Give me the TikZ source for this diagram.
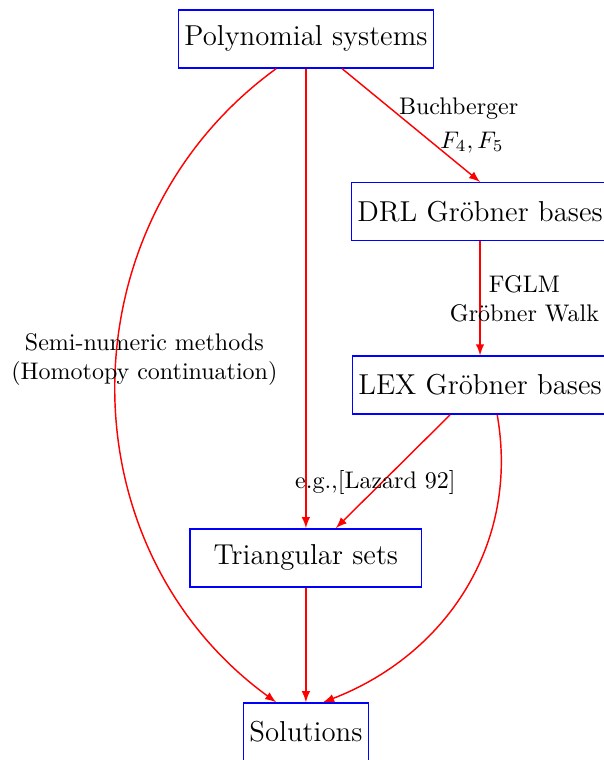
\documentclass[tikz,border=0pt]{standalone}
\usepackage{tikz}
\usetikzlibrary{arrows}

\begin{document}
\begin{tikzpicture}[>=latex, semithick,
    box/.style={draw=blue, font=\large, inner xsep=2.5pt, minimum height=0.85cm},
    flow/.style={->, red},
    lbl/.style={text=black}]
  \useasboundingbox (0,0) rectangle (8.84,-11.13);

  \node[box] (poly) at (4.48,-0.57)  {Polynomial systems};
  \node[box] (drl)  at (7.03,-3.10)  {DRL Gr\"obner bases};
  \node[box] (lex)  at (7.03,-5.64)  {LEX Gr\"obner bases};
  \node[box, minimum width=3.39cm] (tri) at (4.48,-8.17) {Triangular sets};
  \node[box] (sol)  at (4.48,-10.72) {Solutions};

  \path[flow] (poly) edge node[lbl, pos=.35, right] {Buchberger} node[lbl, pos=.65, right] {$F_4, F_5$} (drl.north);
  \path[flow] (drl)  edge node[lbl, xshift=0.65cm, align=center] {FGLM\\Gr\"obner Walk} (lex);
  \path[flow] (lex)  edge node[lbl, pos=.6, xshift=-0.09cm] {e.g.,[Lazard 92]} (tri);
  \path[flow] (poly) edge (tri);
  \path[flow] (tri)  edge (sol);
  \draw[flow] (poly.225) to[out=216, in=144, looseness=1.07] node[lbl, pos=.455, xshift=0.4cm, yshift=-0.09cm, align=center] {Semi-numeric methods\\(Homotopy continuation)} (sol.135);
  \draw[flow] (lex.-60) to[out=-80, in=21, looseness=1.0] (sol.60);

\end{tikzpicture}
\end{document}
